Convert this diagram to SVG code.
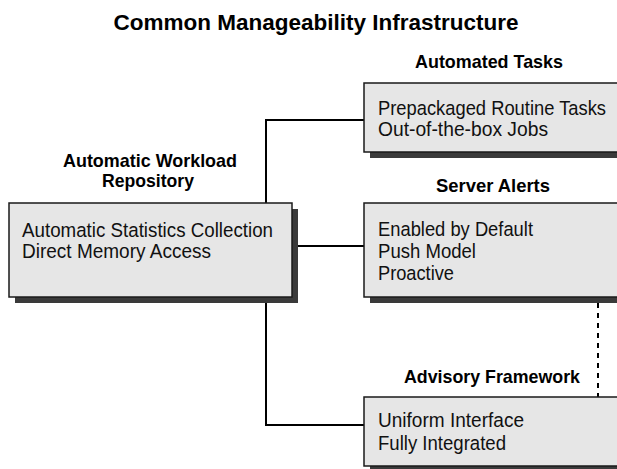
<svg xmlns="http://www.w3.org/2000/svg" width="617" height="469" viewBox="0 0 617 469">
<style>
  .shadow { fill: #3a3a3a; }
  .box { fill: #e6e6e6; stroke: #1a1a1a; stroke-width: 1.5; }
  .fill { fill: #e6e6e6; stroke: none; }
  .edge { fill: none; stroke: #1a1a1a; stroke-width: 1.5; }
  .conn { fill: none; stroke: #000; stroke-width: 2; }
  .dash { fill: none; stroke: #000; stroke-width: 2; stroke-dasharray: 5 5; }
  .title { font-family: "Liberation Sans", Arial, sans-serif; font-weight: bold; font-size: 22px; fill: #000; text-anchor: middle; }
  .head { font-family: "Liberation Sans", Arial, sans-serif; font-weight: bold; font-size: 19px; fill: #000; text-anchor: middle; }
  .body { font-family: "Liberation Sans", Arial, sans-serif; font-size: 20.5px; fill: #111; }
</style>
<rect width="617" height="469" fill="#fff"/>
<text class="title" x="316" y="30" textLength="405" lengthAdjust="spacingAndGlyphs">Common Manageability Infrastructure</text>

<g id="connectors">
  <path class="conn" d="M364,120 H266 V425 H364"/>
  <path class="conn" d="M266,246 H364"/>
  <path class="dash" d="M598,303 V397"/>
</g>

<g id="awr">
  <text class="head" x="150" y="167" textLength="174" lengthAdjust="spacingAndGlyphs">Automatic Workload</text>
  <text class="head" x="148" y="187" textLength="92" lengthAdjust="spacingAndGlyphs">Repository</text>
  <rect class="shadow" x="15" y="209" width="283" height="94"/>
  <rect class="box" x="9" y="203" width="283" height="94"/>
  <text class="body" x="22" y="237" textLength="251" lengthAdjust="spacingAndGlyphs">Automatic Statistics Collection</text>
  <text class="body" x="22" y="258" textLength="189" lengthAdjust="spacingAndGlyphs">Direct Memory Access</text>
</g>

<g id="automated-tasks">
  <text class="head" x="489" y="68" textLength="148" lengthAdjust="spacingAndGlyphs">Automated Tasks</text>
  <rect class="shadow" x="370" y="89" width="247" height="69"/>
  <rect class="fill" x="364" y="83" width="253" height="69"/>
  <path class="edge" d="M617,83 H364 V152 H617"/>
  <text class="body" x="378" y="115" textLength="228" lengthAdjust="spacingAndGlyphs">Prepackaged Routine Tasks</text>
  <text class="body" x="378" y="136" textLength="170" lengthAdjust="spacingAndGlyphs">Out-of-the-box Jobs</text>
</g>

<g id="server-alerts">
  <text class="head" x="493" y="192" textLength="114" lengthAdjust="spacingAndGlyphs">Server Alerts</text>
  <rect class="shadow" x="370" y="209" width="247" height="94"/>
  <rect class="fill" x="364" y="203" width="253" height="94"/>
  <path class="edge" d="M617,203 H364 V297 H617"/>
  <text class="body" x="378" y="236" textLength="155" lengthAdjust="spacingAndGlyphs">Enabled by Default</text>
  <text class="body" x="378" y="258" textLength="98" lengthAdjust="spacingAndGlyphs">Push Model</text>
  <text class="body" x="378" y="280" textLength="76" lengthAdjust="spacingAndGlyphs">Proactive</text>
</g>

<g id="advisory-framework">
  <text class="head" x="492" y="383" textLength="176" lengthAdjust="spacingAndGlyphs">Advisory Framework</text>
  <rect class="shadow" x="370" y="403" width="247" height="66"/>
  <rect class="fill" x="364" y="397" width="253" height="69"/>
  <path class="edge" d="M617,397 H364 V466 H617"/>
  <text class="body" x="378" y="427" textLength="146" lengthAdjust="spacingAndGlyphs">Uniform Interface</text>
  <text class="body" x="378" y="450" textLength="128" lengthAdjust="spacingAndGlyphs">Fully Integrated</text>
</g>
</svg>
